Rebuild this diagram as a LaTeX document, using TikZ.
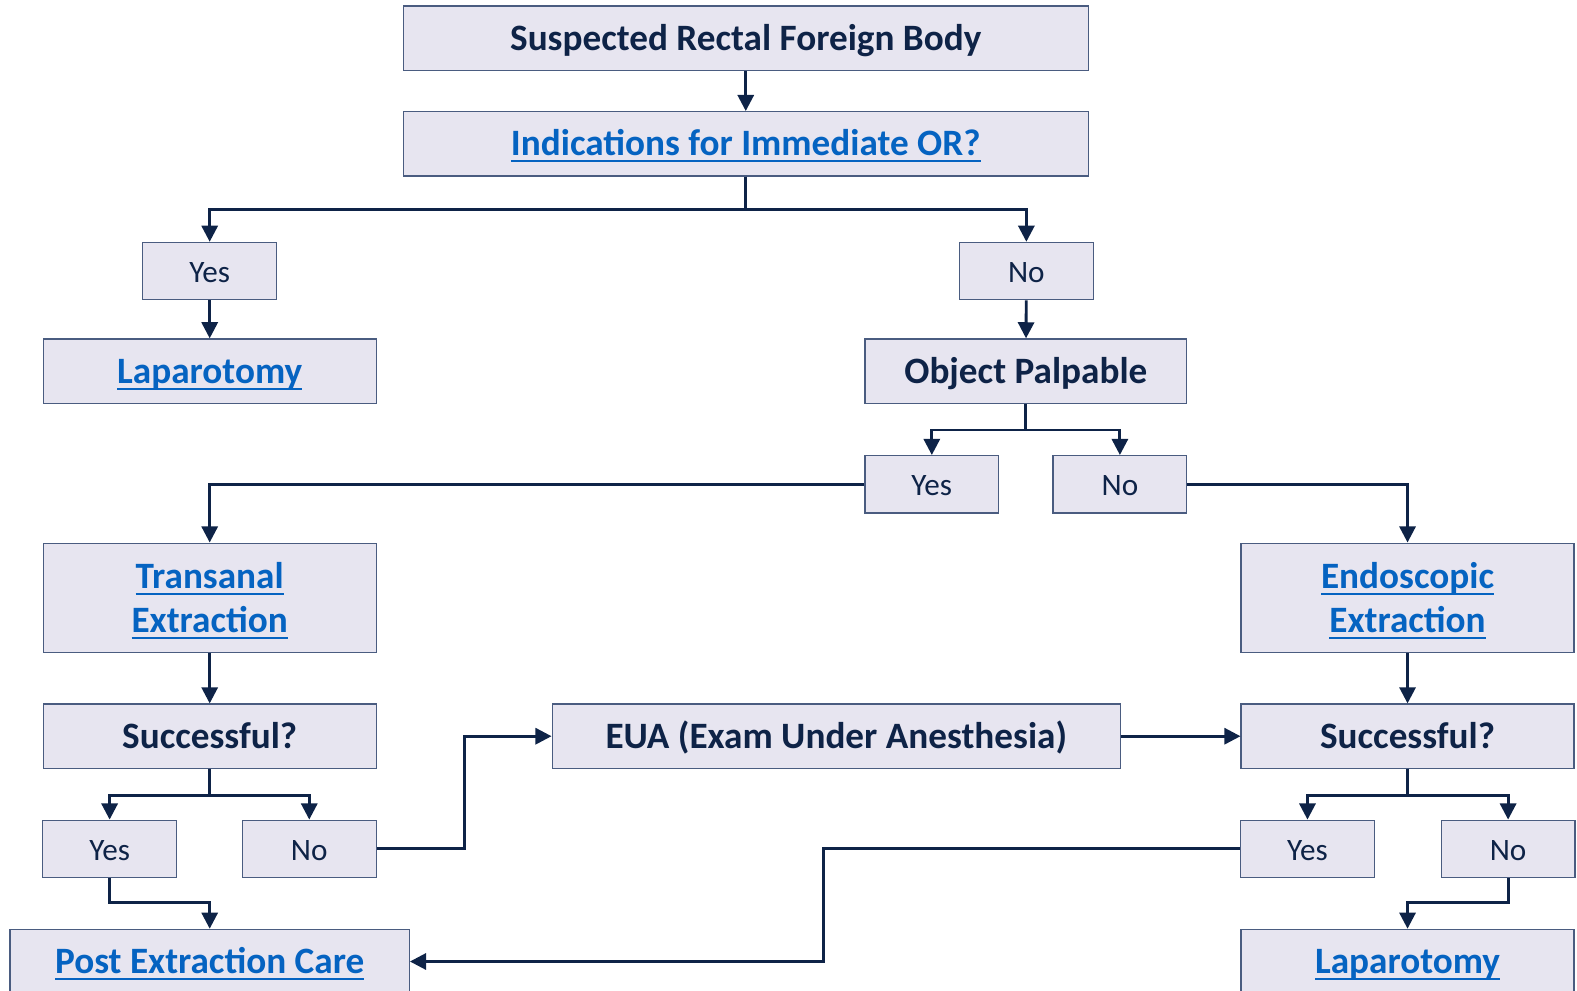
\documentclass[tikz,border=0pt]{standalone}
\usepackage{fontspec}
\setmainfont{Carlito}
\usepackage{xcolor}
\usepackage{tikz}
\usetikzlibrary{arrows.meta}

\definecolor{boxfill}{HTML}{E7E5F0}
\definecolor{boxline}{HTML}{4A5C80}
\definecolor{ink}{HTML}{0E2347}
\definecolor{linkblue}{HTML}{0563C1}
\newcommand{\lnk}[1]{\textcolor{linkblue}{\setbox0\hbox{#1}\rlap{\rule[-3.2pt]{\wd0}{1pt}}\box0}}

\tikzset{
  box/.style={draw=boxline, line width=0.6pt, fill=boxfill, text=ink,
    inner sep=0pt, align=center, font=\fontsize{18.5}{22}\selectfont\bfseries},
  oneline/.style={box, text height=13pt, text depth=1pt},
  bigbox/.style={oneline, minimum width=165.5pt, minimum height=32pt},
  tallbox/.style={box, minimum width=165.5pt, minimum height=54.5pt},
  answer/.style={oneline, minimum width=66.5pt, minimum height=28.5pt,
    text height=12.6pt, font=\fontsize{15.5}{18}\selectfont},
  flow/.style={draw=ink, line width=1.4pt, -{Triangle[length=8pt,width=8pt]}}
}

\begin{document}
\begin{tikzpicture}[x=0.5pt, y=-0.5pt]
\useasboundingbox (0,0) rectangle (1568,985);

% top of the chart
\node[oneline, minimum width=340.5pt, minimum height=32pt] (start) at (741.5,38) {Suspected Rectal Foreign Body};
\node[oneline, minimum width=340.5pt, minimum height=32pt] (immor) at (741.5,143) {\lnk{Indications for Immediate OR?}};
\node[answer] (yesor) at (208.5,269.5) {Yes};
\node[answer] (noor) at (1020.5,269.5) {No};
\node[bigbox] (lap1) at (208.5,369) {\lnk{Laparotomy}};
\node[oneline, minimum width=160pt, minimum height=32pt] (palp) at (1020,369) {Object Palpable};
\node[answer] (yespalp) at (926.5,481.5) {Yes};
\node[answer] (nopalp) at (1113.5,481.5) {No};

% extraction
\node[tallbox] (trans) at (208.5,594.5) {\rule{0pt}{16pt}\lnk{Transanal}\\\lnk{Extraction}};
\node[tallbox] (endo) at (1399.5,594.5) {\rule{0pt}{16pt}\lnk{Endoscopic}\\\lnk{Extraction}};
\node[bigbox] (succ1) at (208.5,732) {Successful?};
\node[oneline, minimum width=282.5pt, minimum height=32pt] (eua) at (831.5,732) {EUA (Exam Under Anesthesia)};
\node[bigbox] (succ2) at (1399.5,732) {Successful?};
\node[answer] (yes1) at (109,844) {Yes};
\node[answer] (no1) at (307.5,844) {No};
\node[answer] (yes2) at (1300,844) {Yes};
\node[answer] (no2) at (1499.5,844) {No};

% bottom
\node[oneline, minimum width=198.5pt, minimum height=32pt] (care) at (208.5,956) {\lnk{Post Extraction Care}};
\node[bigbox] (lap2) at (1399.5,956) {\lnk{Laparotomy}};

% connectors
\draw[flow] (start) -- (immor);
\draw[flow] (immor.south) |- ++(0,33) -| (yesor.north);
\draw[flow] (immor.south) |- ++(0,33) -| (noor.north);
\draw[flow] (yesor) -- (lap1);
\draw[flow] (noor) -- (palp);
\draw[flow] (palp.south) |- ++(0,26) -| (yespalp.north);
\draw[flow] (palp.south) |- ++(0,26) -| (nopalp.north);
\draw[flow] (yespalp.west) -| (trans.north);
\draw[flow] (nopalp.east) -| (endo.north);
\draw[flow] (trans) -- (succ1);
\draw[flow] (endo) -- (succ2);
\draw[flow] (succ1.south) |- ++(0,26) -| (yes1.north);
\draw[flow] (succ1.south) |- ++(0,26) -| (no1.north);
\draw[flow] (succ2.south) |- ++(0,26) -| (yes2.north);
\draw[flow] (succ2.south) |- ++(0,26) -| (no2.north);
\draw[flow] (no1.east) -- ++(87,0) |- (eua.west);
\draw[flow] (eua) -- (succ2);
\draw[flow] (yes1.south) |- ++(0,24) -| (care.north);
\draw[flow] (yes2.west) -- ++(-414,0) |- (care.east);
\draw[flow] (no2.south) |- ++(0,24) -| (lap2.north);
\end{tikzpicture}
\end{document}
